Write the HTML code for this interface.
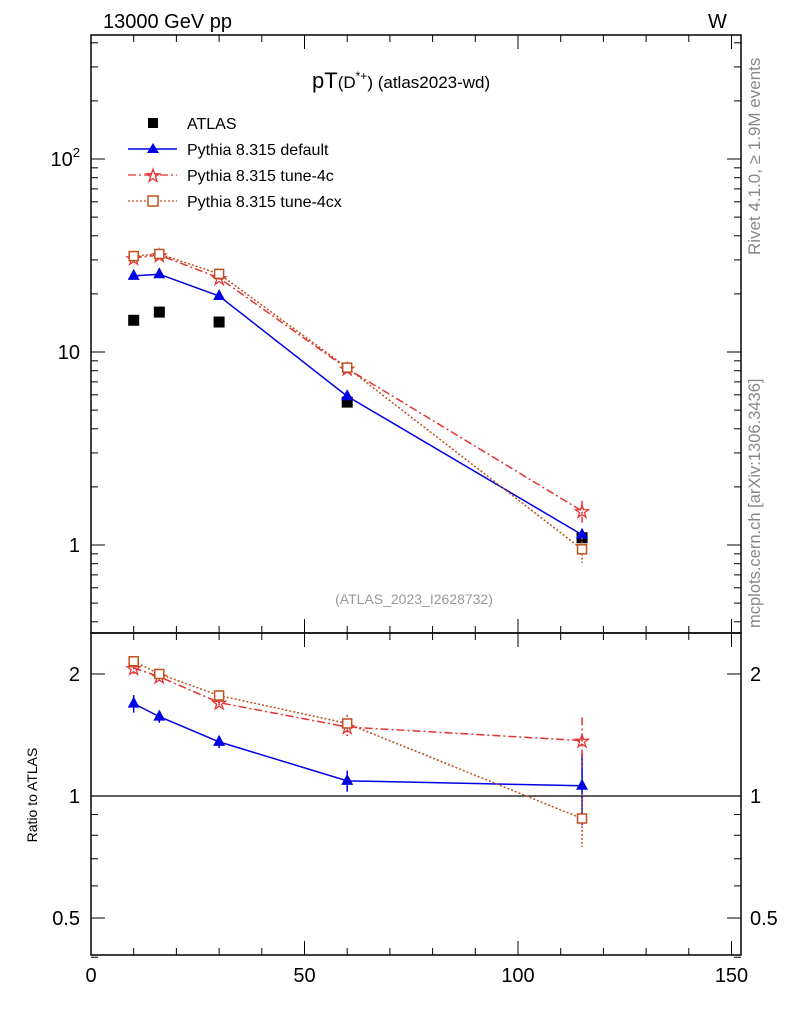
<!DOCTYPE html>
<html><head><meta charset="utf-8"><style>
body{margin:0;background:#fff;font-family:"Liberation Sans",sans-serif}
svg text{font-family:"Liberation Sans",sans-serif}
</style></head><body>
<svg id="c" width="786" height="1024" xmlns="http://www.w3.org/2000/svg">
<text x="103" y="28" font-size="20">13000 GeV pp</text>
<text x="708" y="28" font-size="20">W</text>
<text x="312" y="88" font-size="22">pT<tspan font-size="17">(D</tspan><tspan font-size="12" dy="-8">*+</tspan><tspan font-size="17" dy="8">) (atlas2023-wd)</tspan></text>
<text x="414" y="604" font-size="14" fill="#999" text-anchor="middle">(ATLAS_2023_I2628732)</text>
<text transform="translate(760,255) rotate(-90)" font-size="17" fill="#888">Rivet 4.1.0, ≥ 1.9M events</text>
<text transform="translate(760,628) rotate(-90)" font-size="16.5" fill="#888">mcplots.cern.ch [arXiv:1306.3436]</text>
<text transform="translate(37,795) rotate(-90)" font-size="14" text-anchor="middle">Ratio to ATLAS</text>
<g id="legend">
<rect x="148" y="118" width="10" height="10" fill="#000"/>
<text x="187" y="129" font-size="16">ATLAS</text>
<line x1="128" y1="149" x2="177" y2="149" stroke="#0000e6" stroke-width="1.5"/>
<polygon points="153,143 147,153 159,153" fill="#0000e6"/>
<text x="187" y="155" font-size="16">Pythia 8.315 default</text>
<line x1="128" y1="175" x2="177" y2="175" stroke="#e63232" stroke-width="1.3" stroke-dasharray="8,3,2,3"/>
<text x="153" y="182" font-size="19" font-weight="bold" fill="#e63232" text-anchor="middle">☆</text>
<text x="187" y="181" font-size="16">Pythia 8.315 tune-4c</text>
<line x1="128" y1="201" x2="177" y2="201" stroke="#c0501e" stroke-width="1.3" stroke-dasharray="2,2"/>
<rect x="148" y="196" width="10" height="10" fill="#fff" stroke="#c0501e" stroke-width="1.5"/>
<text x="187" y="207" font-size="16">Pythia 8.315 tune-4cx</text>
</g>
</svg>
<script>
const xs=[10,16,30,60,115];
const atlas=[14.6,16.1,14.3,5.5,1.09];
const pyDef=[24.8,25.3,19.5,5.9,1.13];
const py4c=[30.7,31.8,24.2,8.2,1.5];
const py4cx=[31.4,32.2,25.4,8.3,0.95];
const pyDefErr=[0.02,0.02,0.02,0.05,0.05];
const py4cErr=[0.02,0.02,0.02,0.03,0.13];
const py4cxErr=[0.02,0.02,0.02,0.03,0.15];
const rDef=[1.69,1.57,1.36,1.09,1.06];
const r4c=[2.07,1.97,1.70,1.48,1.37];
const r4cx=[2.15,2.0,1.77,1.51,0.88];
const rDefErr=[0.05,0.035,0.035,0.06,0.2];
const r4cErr=[0.04,0.03,0.03,0.05,0.14];
const r4cxErr=[0.03,0.03,0.03,0.05,0.15];
const xTicks=[0,50,100,150];
const mainTicks=[1,10,100];
const ratioTicks=[0.5,1,2];

const NS='http://www.w3.org/2000/svg';
const svg=document.getElementById('c');
const L=91,R=741,T=35,M=633,B=955;
const X=v=>L+v*(518-91)/100;
const Ym=v=>545-Math.log10(v)*193;
const Yr=v=>796-Math.log2(v)*122;
function el(t,a,p){const e=document.createElementNS(NS,t);for(const k in a)e.setAttribute(k,a[k]);(p||svg).appendChild(e);return e;}

const f1=el('rect',{x:L,y:T,width:R-L,height:M-T,fill:'none',stroke:'#000','stroke-width':1.5});


const f2=el('rect',{x:L,y:M,width:R-L,height:B-M,fill:'none',stroke:'#000','stroke-width':1.5});


const one=el('line',{x1:L,y1:Yr(1),x2:R,y2:Yr(1),stroke:'#000','stroke-width':1.2});



for(let v=0;v<=150;v+=10){
  const major=v%50===0, len=major?14:7, x=X(v);
  for(const [y0,d] of [[B,-1],[M,1],[M,-1],[T,1]]) el('line',{x1:x,y1:y0,x2:x,y2:y0+d*len,stroke:'#000','stroke-width':1});
}
xTicks.forEach(v=>{const t=el('text',{x:X(v),y:982,'font-size':20,'text-anchor':'middle'});t.textContent=v;

});

for(let d=-1;d<=2;d++)for(let m=1;m<10;m++){const v=m*Math.pow(10,d);const y=Ym(v);if(y<T||y>M)continue;
 const len=m===1?14:7;el('line',{x1:L,y1:y,x2:L+len,y2:y,stroke:'#000'});el('line',{x1:R,y1:y,x2:R-len,y2:y,stroke:'#000'});}
mainTicks.forEach(v=>{const y=Ym(v);const t=el('text',{x:80,y:y+7,'font-size':20,'text-anchor':'end'});
 if(v===100){t.innerHTML='10<tspan font-size="13" dy="-9">2</tspan>';}else t.textContent=v;
 
 });
[0.4,0.5,0.6,0.7,0.8,0.9,1,2].forEach(v=>{const y=Yr(v);const len=(v===0.5||v===1||v===2)?14:7;
 el('line',{x1:L,y1:y,x2:L+len,y2:y,stroke:'#000'});el('line',{x1:R,y1:y,x2:R-len,y2:y,stroke:'#000'});});
ratioTicks.forEach(v=>{const y=Yr(v);
 const t=el('text',{x:80,y:y+7,'font-size':20,'text-anchor':'end'});t.textContent=v;
 
 
 const t2=el('text',{x:750,y:y+7,'font-size':20});t2.textContent=v;
 
 });

function marker(kind,x,y,col){
 if(kind==='tri')return el('polygon',{points:`${x},${y-7} ${x-6},${y+4} ${x+6},${y+4}`,fill:col});
 if(kind==='sq')return el('rect',{x:x-4.5,y:y-4.5,width:9,height:9,fill:'#fff',stroke:col,'stroke-width':1.5});
 if(kind==='box')return el('rect',{x:x-5.5,y:y-5.5,width:11,height:11,fill:col});
 const t=el('text',{x:x,y:y+7,'font-size':19,'font-weight':'bold',fill:col,'text-anchor':'middle'});t.textContent='☆';return t;
}
function series(name,vals,errs,Y,col,dash,kind){
 const g=el('g',{});
 
 
 if(kind!=='box'){el('polyline',{points:xs.map((x,i)=>X(x)+','+Y(vals[i])).join(' '),fill:'none',stroke:col,'stroke-width':1.5,'stroke-dasharray':dash},g);}
 xs.forEach((x,i)=>{
  if(errs){const y1=Y(vals[i]*(1+errs[i])),y2=Y(vals[i]*(1-errs[i]));
   el('line',{x1:X(x),y1:y1,x2:X(x),y2:y2,stroke:col,'stroke-width':1.5,'stroke-dasharray':dash},g);}
  const m=marker(kind,X(x),Y(vals[i]),col);g.appendChild(m);
  
  
 });
}
series('atlas-data',atlas,null,Ym,'#000','','box');
series('pythia-default',pyDef,pyDefErr,Ym,'#0000e6','','tri');
series('pythia-tune-4c',py4c,py4cErr,Ym,'#e63232','8,3,2,3','star');
series('pythia-tune-4cx',py4cx,py4cxErr,Ym,'#c0501e','2,2','sq');
series('ratio-default',rDef,rDefErr,Yr,'#0000e6','','tri');
series('ratio-tune-4c',r4c,r4cErr,Yr,'#e63232','8,3,2,3','star');
series('ratio-tune-4cx',r4cx,r4cxErr,Yr,'#c0501e','2,2','sq');
</script>
</body></html>
